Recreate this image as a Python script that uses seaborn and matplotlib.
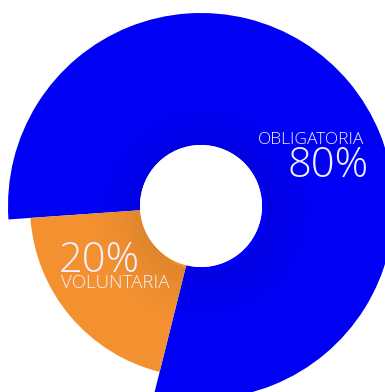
import matplotlib
matplotlib.use("Agg")
import matplotlib.pyplot as plt
import seaborn as sns

labels = ["OBLIGATORIA", "VOLUNTARIA"]
values = [80, 20]
pct_labels = ["80%", "20%"]
colors = ["#0000F5", "#F39130"]

sns.set_theme(style="white")
plt.rcParams['font.family'] = ['Open Sans', 'DejaVu Sans']

fig = plt.figure(figsize=(3.85, 3.92), dpi=100)
ax = fig.add_axes([0, 0, 1, 1])

R_blue, R_orange, R_in = 193, 171, 61
start = 256

# blue wedge (80%) large radius
ax.pie(values, radius=R_blue, startangle=start, counterclock=True,
       colors=[colors[0], "none"],
       wedgeprops=dict(width=R_blue - R_in, linewidth=0))
# orange wedge (20%) smaller radius
ax.pie(values, radius=R_orange, startangle=start, counterclock=True,
       colors=["none", colors[1]],
       wedgeprops=dict(width=R_orange - R_in, linewidth=0))

# soft inner shadow rings
N = 35
for i in range(N):
    r = R_in + (i + 1) * 1.6
    a = 0.08 * (1 - i / N) ** 1.5
    ax.pie([1], radius=r, center=(5, -5), colors=["black"],
           wedgeprops=dict(width=1.6, linewidth=0, alpha=a))
# hole
ax.pie([1], radius=R_in, colors=["white"], wedgeprops=dict(linewidth=0))

ax.set_xlim(-201, 184)
ax.set_ylim(-186, 206)
ax.set_aspect("equal")
ax.axis("off")

tc = "#F4F1FF"
ax.text(364 - 201, 206 - 144, labels[0], ha="right", va="baseline",
        fontsize=12.5, color=tc, fontweight="light")
ax.text(369 - 201, 206 - 177, pct_labels[0], ha="right", va="baseline",
        fontsize=30, color=tc, fontweight="light")
ax.text(59 - 201, 206 - 272, pct_labels[1], ha="left", va="baseline",
        fontsize=30, color=tc, fontweight="light")
ax.text(61 - 201, 206 - 288, labels[1], ha="left", va="baseline",
        fontsize=13.5, color=tc, fontweight="light")

fig.savefig("out.png", dpi=100, facecolor="white")
